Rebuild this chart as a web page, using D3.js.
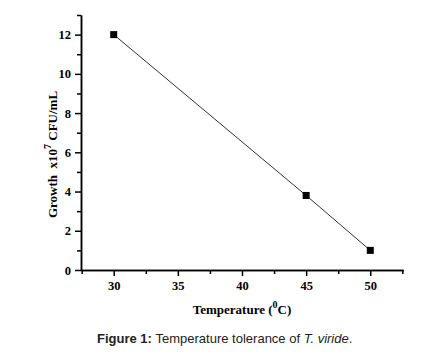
<!DOCTYPE html>
<html>
<head>
<meta charset="utf-8">
<script src="https://cdn.jsdelivr.net/npm/d3@7"></script>
<style>
  body { margin: 0; background: #fff; }
  .axis text { font-family: "Liberation Serif", serif; font-weight: bold; font-size: 12.5px; fill: #000; }
  .axis path, .axis line { stroke: #000; stroke-width: 1.5; }
</style>
</head>
<body>
<svg id="chart" width="434" height="356"></svg>
<script>
const temps = [30, 45, 50];
const growth = [12, 3.8, 1];
const xTicks = [30, 35, 40, 45, 50];
const yTicks = [0, 2, 4, 6, 8, 10, 12];

const svg = d3.select("svg#chart");
const margin = {top: 15, right: 31, bottom: 86, left: 81};
const width = 434 - margin.left - margin.right;
const height = 356 - margin.top - margin.bottom;

const x = d3.scaleLinear().domain([27.45, 52.55]).range([0, width]);
const y = d3.scaleLinear().domain([0, 13]).range([height, 0]);

const chart = svg.append("g").attr("transform", `translate(${margin.left},${margin.top})`);

// minor ticks first
chart.append("g").attr("class", "axis")
    .attr("transform", `translate(0,${height})`)
    .call(d3.axisBottom(x).tickValues([27.5, 32.5, 37.5, 42.5, 47.5, 52.5]).tickSize(4).tickFormat("").tickSizeOuter(0));
chart.append("g").attr("class", "axis")
    .call(d3.axisLeft(y).tickValues([1, 3, 5, 7, 9, 11, 13]).tickSize(4).tickFormat("").tickSizeOuter(0));

chart.append("g").attr("class", "axis")
    .attr("transform", `translate(0,${height})`)
    .call(d3.axisBottom(x).tickValues(xTicks).tickSize(6).tickSizeOuter(0).tickPadding(5));
chart.append("g").attr("class", "axis")
    .call(d3.axisLeft(y).tickValues(yTicks).tickSize(6).tickSizeOuter(0).tickPadding(4));

const pts = temps.map((t, i) => ({t: t, g: growth[i]}));

chart.append("path")
    .attr("d", d3.line().x(d => x(d.t)).y(d => y(d.g))(pts))
    .attr("fill", "none")
    .attr("stroke", "#333")
    .attr("stroke-width", 1);

chart.selectAll("rect.pt").data(pts).join("rect")
    .attr("class", "pt")
    .attr("x", d => x(d.t) - 3.5)
    .attr("y", d => y(d.g) - 3.5)
    .attr("width", 7)
    .attr("height", 7)
    .attr("fill", "#000");

// y label
const yl = svg.append("text")
    .attr("transform", `translate(57,${margin.top + height / 2 + 12}) rotate(-90)`)
    .attr("text-anchor", "middle")
    .style("font-family", "Liberation Serif, serif")
    .style("font-weight", "bold")
    .style("font-size", "13px");
yl.append("tspan").text("Growth\u00a0 x10");
yl.append("tspan").attr("dy", -6).style("font-size", "10px").text("7");
yl.append("tspan").attr("dy", 6).text("\u00a0CFU/mL");

// x label
const xl = svg.append("text")
    .attr("x", margin.left + x(40))
    .attr("y", 314)
    .attr("text-anchor", "middle")
    .style("font-family", "Liberation Serif, serif")
    .style("font-weight", "bold")
    .style("font-size", "13px");
xl.append("tspan").text("Temperature (");
xl.append("tspan").attr("dy", -6).style("font-size", "10px").text("0");
xl.append("tspan").attr("dy", 6).text("C)");

// caption
const cap = svg.append("text")
    .attr("x", 97)
    .attr("y", 343)
    .style("font-family", "Liberation Sans, Arial, sans-serif")
    .style("font-size", "13px")
    .attr("fill", "#222");
cap.append("tspan").style("font-weight", "bold").text("Figure 1: ");
cap.append("tspan").text("Temperature tolerance of ");
cap.append("tspan").style("font-style", "italic").text("T. viride");
cap.append("tspan").text(".");
</script>
</body>
</html>
